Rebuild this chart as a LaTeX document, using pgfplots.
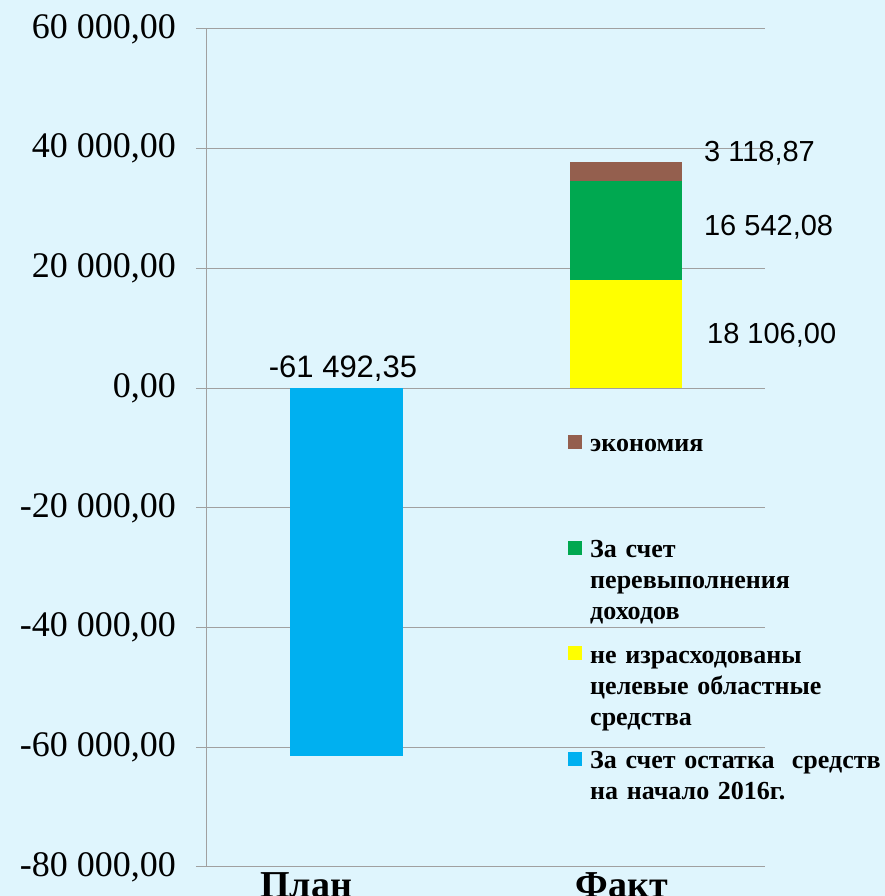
\documentclass[border=0pt]{standalone}
\usepackage{fontspec}
\setmainfont{Liberation Serif}
\newfontfamily\sansf{Liberation Sans}
\usepackage{pgfplots}
\pgfplotsset{compat=1.18}
\definecolor{bg}{RGB}{223,245,253}
\definecolor{gridgray}{RGB}{160,160,160}
\definecolor{cyanbar}{RGB}{0,176,240}
\definecolor{yellowbar}{RGB}{255,255,0}
\definecolor{greenbar}{RGB}{0,168,80}
\definecolor{brownbar}{RGB}{148,95,78}
\begin{document}
\begin{tikzpicture}
\useasboundingbox (-207pt,-29pt) rectangle (678pt,867pt);
\fill[bg] (-207pt,-29pt) rectangle (678pt,867pt);
\begin{axis}[
  at={(0pt,0pt)}, anchor=south west,
  width=558pt, height=838pt, scale only axis,
  xmin=-0.5, xmax=1.5, ymin=-80000, ymax=60000,
  clip=false,
  ybar stacked, bar width=112pt,
  axis lines*=left,
  axis line style={-, draw=gridgray, line width=1pt},
  ymajorgrids, grid style={draw=gridgray, line width=1pt},
  tick align=outside, major tick length=11pt,
  scaled y ticks=false,
  ytick={-80000,-60000,-40000,-20000,0,20000,40000,60000},
  yticklabels={{-80 000,00},{-60 000,00},{-40 000,00},{-20 000,00},{0,00},{20 000,00},{40 000,00},{60 000,00}},
  yticklabel style={font=\fontsize{36}{42}\selectfont, inner sep=0pt, xshift=-20pt},
  ytick style={draw=gridgray, line width=1pt},
  xtick={-0.145,0.987},
  xticklabels={План,Факт},
  xtick style={draw=none},
  xticklabel style={font=\bfseries\fontsize{38}{44}\selectfont, inner sep=0pt, anchor=north, yshift=6pt},
  reverse legend,
  legend image code/.code={\fill[#1] (0pt,3pt) rectangle (14pt,17pt);},
  legend style={at={(axis description cs:0.647,0.5215)}, anchor=north west,
    draw=none, fill=none, inner sep=0pt, column sep=8pt, row sep=13pt,
    font=\bfseries\fontsize{26}{31}\selectfont,
    nodes={inner sep=0pt, anchor=base west, text width=300pt, align=left,
      text depth=71pt,
      font=\bfseries\fontsize{26}{31}\selectfont}},
]
\addplot[fill=cyanbar, draw=none] coordinates {(0,-61492.35) (1,0)};
\addlegendentry{\strut За счет остатка\ \ средств\\\strut на начало 2016г.}
\addplot[fill=yellowbar, draw=none] coordinates {(0,0) (1,18106)};
\addlegendentry{\strut не израсходованы\\\strut целевые областные\\\strut средства}
\addplot[fill=greenbar, draw=none] coordinates {(0,0) (1,16542.08)};
\addlegendentry{\strut За счет\\\strut перевыполнения\\\strut доходов}
\addplot[fill=brownbar, draw=none] coordinates {(0,0) (1,3118.87)};
\addlegendentry{\strut экономия}
\node[font=\sansf\fontsize{31}{36}\selectfont, inner sep=0pt] at (axis cs:-0.0125,3333) {-61 492,35};
\node[font=\sansf\fontsize{29}{34}\selectfont, inner sep=0pt, anchor=west] at (axis cs:1.281,39167) {3 118,87};
\node[font=\sansf\fontsize{29}{34}\selectfont, inner sep=0pt, anchor=west] at (axis cs:1.281,26833) {16 542,08};
\node[font=\sansf\fontsize{29}{34}\selectfont, inner sep=0pt, anchor=west] at (axis cs:1.292,8833) {18 106,00};
\end{axis}
\end{tikzpicture}
\end{document}
